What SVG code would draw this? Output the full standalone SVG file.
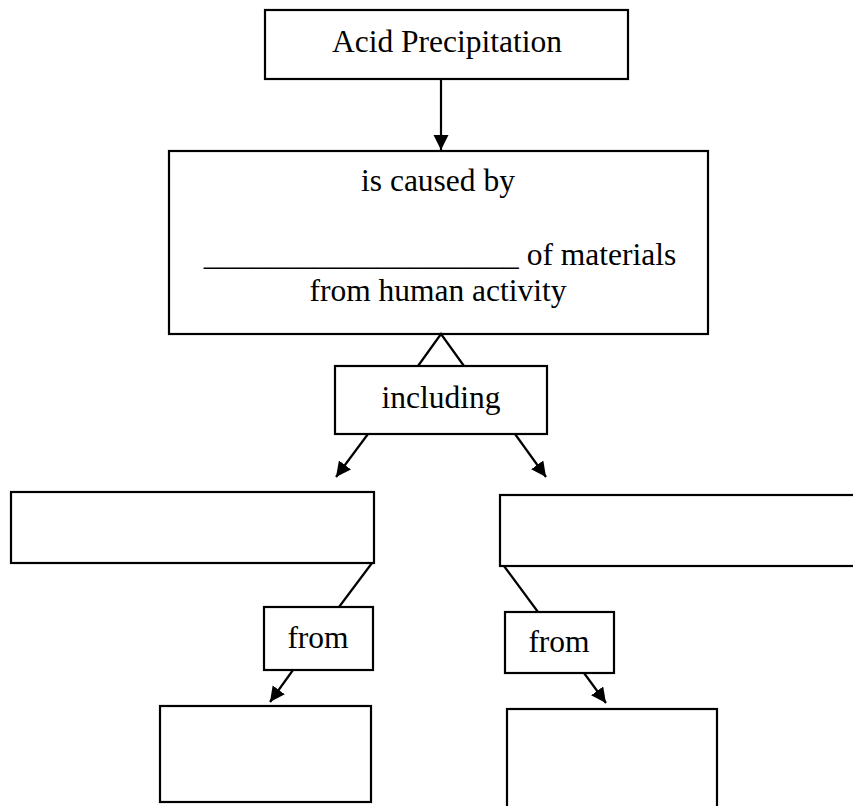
<svg xmlns="http://www.w3.org/2000/svg" width="853" height="806" viewBox="0 0 853 806">
<style>
.box{fill:#fff;stroke:#000;stroke-width:2.2}
.lbl{font-family:"Liberation Serif","Times New Roman",serif;font-size:31.5px;fill:#000}
.c{text-anchor:middle}
.con{stroke:#000;stroke-width:2.2;fill:none}
</style>
<defs>
<marker id="ah" markerUnits="userSpaceOnUse" markerWidth="16" markerHeight="16" refX="15" refY="7.5" orient="auto">
<path d="M0,0 L15,7.5 L0,15 z" fill="#000"/>
</marker>
</defs>
<rect width="853" height="806" fill="#fff"/>
<g id="n-acid"><rect class="box" x="265" y="10" width="363" height="69"/><text class="lbl c" x="447" y="52">Acid Precipitation</text></g>
<g id="n-caused"><rect class="box" x="169" y="151" width="539" height="183"/>
<text class="lbl c" x="438" y="191">is caused by</text>
<text class="lbl c" x="440" y="265">____________________ of materials</text>
<text class="lbl c" x="438" y="301">from human activity</text></g>
<g id="n-including"><rect class="box" x="335" y="366" width="212" height="68"/><text class="lbl c" x="441" y="408">including</text></g>
<g id="n-left"><rect class="box" x="11" y="492" width="363" height="71"/></g>
<g id="n-right"><rect class="box" x="500" y="495" width="370" height="71"/></g>
<g id="n-from-left"><rect class="box" x="264" y="607" width="109" height="63"/><text class="lbl c" x="318" y="648">from</text></g>
<g id="n-from-right"><rect class="box" x="505" y="612" width="109" height="61"/><text class="lbl c" x="559" y="652">from</text></g>
<g id="n-bottom-left"><rect class="box" x="160" y="706" width="211" height="96"/></g>
<g id="n-bottom-right"><rect class="box" x="507" y="709" width="210" height="120"/></g>
<g id="connectors">
<line class="con" x1="441" y1="79" x2="441" y2="150" marker-end="url(#ah)"/>
<polyline class="con" points="418,366 441,334 464,366"/>
<line class="con" x1="368" y1="434" x2="336" y2="477" marker-end="url(#ah)"/>
<line class="con" x1="515" y1="434" x2="546" y2="477" marker-end="url(#ah)"/>
<line class="con" x1="372" y1="563" x2="339" y2="607"/>
<line class="con" x1="504" y1="566" x2="538" y2="612"/>
<line class="con" x1="293" y1="670" x2="270" y2="702" marker-end="url(#ah)"/>
<line class="con" x1="584" y1="673" x2="606" y2="703" marker-end="url(#ah)"/>
</g>
</svg>
